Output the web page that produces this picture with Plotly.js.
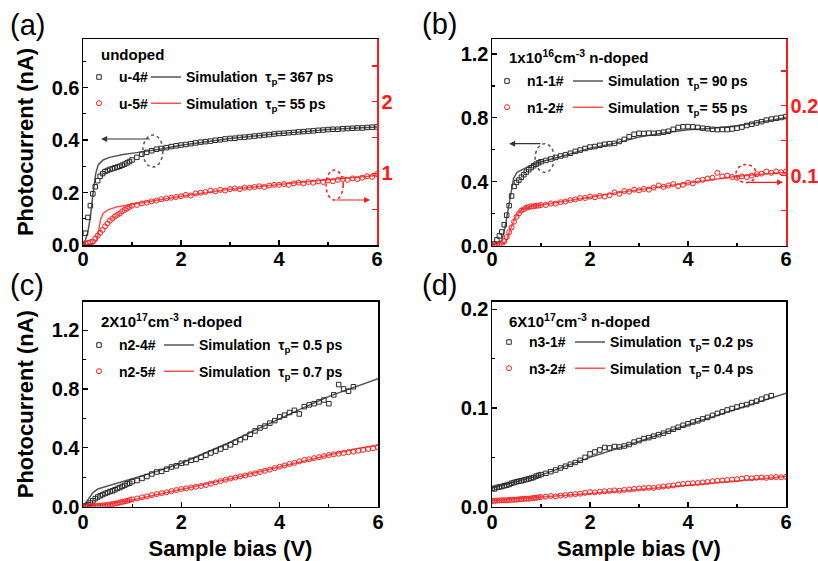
<!DOCTYPE html>
<html><head><meta charset="utf-8">
<script src="https://cdn.plot.ly/plotly-3.0.1.min.js"></script>
<style>body{margin:0;background:#fff}#chart{width:818px;height:561px}</style>
</head><body><div id="chart"></div>
<script>
// ---------- DATA ----------
const biasV = [0,0.05,0.1,0.15,0.2,0.25,0.3,0.35,0.4,0.45,0.5,0.55,0.6,0.65,0.7,0.75,0.8,0.85,0.9,0.95,1.0,
  1.1,1.2,1.3,1.4,1.5,1.6,1.7,1.8,1.9,2.0,2.1,2.2,2.3,2.4,2.5,2.6,2.7,2.8,2.9,3.0,
  3.1,3.2,3.3,3.4,3.5,3.6,3.7,3.8,3.9,4.0,4.1,4.2,4.3,4.4,4.5,4.6,4.7,4.8,4.9,5.0,
  5.1,5.2,5.3,5.4,5.5,5.6,5.7,5.8,5.9,6.0];

// (a) undoped
const u4 = [0.000,0.045,0.105,0.150,0.195,0.222,0.245,0.262,0.272,0.280,0.284,0.288,0.291,0.294,0.297,0.300,0.304,0.308,0.313,0.318,0.324,
  0.334,0.346,0.353,0.359,0.365,0.368,0.371,0.375,0.378,0.381,0.383,0.386,0.389,0.392,0.394,0.396,0.399,0.401,0.404,0.406,
  0.407,0.410,0.411,0.413,0.415,0.417,0.419,0.421,0.423,0.425,0.426,0.428,0.429,0.431,0.432,0.434,0.435,0.437,0.438,0.440,
  0.441,0.441,0.443,0.444,0.445,0.446,0.446,0.448,0.449,0.450];
const u5 = [0.02,0.02,0.03,0.04,0.05,0.09,0.13,0.17,0.21,0.26,0.30,0.34,0.37,0.40,0.42,0.44,0.47,0.49,0.51,0.53,0.55,
  0.56,0.58,0.59,0.61,0.62,0.64,0.65,0.66,0.67,0.68,0.70,0.69,0.72,0.73,0.74,0.76,0.75,0.77,0.76,0.78,
  0.79,0.78,0.80,0.80,0.81,0.82,0.81,0.83,0.84,0.84,0.85,0.84,0.86,0.87,0.86,0.88,0.87,0.89,0.88,0.90,
  0.89,0.91,0.92,0.91,0.93,0.92,0.94,0.96,0.95,0.99];
const simU4x = [0,0.05,0.1,0.15,0.2,0.26,0.31,0.41,0.54,0.82,1.09,1.3,1.6,2,2.5,3,3.5,4,4.5,5,5.5,6];
const simU4y = [0,0.02,0.05,0.105,0.19,0.273,0.305,0.324,0.334,0.345,0.352,0.357,0.366,0.380,0.394,0.406,0.415,0.425,0.432,0.440,0.445,0.450];
const simU5x = [0,0.2,0.28,0.32,0.36,0.41,0.51,0.68,1.02,1.36,1.7,2,2.5,3,3.5,4,4.5,5,5.5,6];
const simU5y = [0,0.01,0.06,0.22,0.36,0.44,0.49,0.53,0.57,0.60,0.64,0.68,0.73,0.78,0.81,0.85,0.88,0.91,0.94,0.97];

// (b) 1e16 n-doped
const n11 = [0.000,0.010,0.035,0.060,0.085,0.130,0.190,0.250,0.310,0.370,0.395,0.410,0.428,0.444,0.460,0.475,0.488,0.500,0.510,0.518,0.525,
  0.533,0.542,0.552,0.561,0.568,0.578,0.590,0.598,0.608,0.617,0.620,0.628,0.634,0.638,0.640,0.652,0.665,0.682,0.697,0.703,
  0.702,0.704,0.703,0.705,0.710,0.716,0.728,0.740,0.744,0.745,0.743,0.740,0.735,0.732,0.728,0.726,0.727,0.726,0.730,0.735,
  0.742,0.752,0.760,0.768,0.776,0.786,0.792,0.797,0.802,0.808];
const n12 = [0.000,0.000,0.000,0.001,0.002,0.006,0.012,0.019,0.026,0.034,0.041,0.046,0.050,0.052,0.054,0.055,0.056,0.056,0.057,0.057,0.058,
  0.058,0.060,0.060,0.062,0.063,0.065,0.066,0.068,0.068,0.070,0.069,0.071,0.070,0.072,0.076,0.074,0.078,0.077,0.080,0.079,
  0.081,0.080,0.083,0.086,0.084,0.086,0.088,0.085,0.087,0.090,0.089,0.093,0.094,0.096,0.097,0.104,0.099,0.100,0.098,0.097,
  0.099,0.098,0.100,0.102,0.103,0.106,0.104,0.106,0.105,0.106];
const simN11x = [0,0.2,0.27,0.34,0.39,0.44,0.51,0.61,0.75,0.95,1.2,1.5,2,2.5,3,3.5,4,4.5,5,5.5,6];
const simN11y = [0,0.03,0.12,0.246,0.35,0.42,0.458,0.475,0.496,0.52,0.54,0.565,0.61,0.64,0.68,0.705,0.725,0.735,0.75,0.775,0.80];
const simN12x = [0,0.2,0.3,0.4,0.5,0.6,0.8,1,1.5,2,2.5,3,3.5,4,4.5,5,5.5,6];
const simN12y = [0,0,0.008,0.028,0.043,0.051,0.056,0.058,0.064,0.069,0.075,0.080,0.085,0.089,0.094,0.099,0.102,0.105];

// (c) 2e17 n-doped
const n24 = [0.000,0.005,0.012,0.025,0.040,0.055,0.066,0.074,0.082,0.090,0.096,0.103,0.108,0.115,0.124,0.130,0.138,0.145,0.155,0.160,0.170,
  0.178,0.192,0.205,0.222,0.236,0.240,0.255,0.270,0.278,0.295,0.300,0.315,0.322,0.336,0.350,0.365,0.378,0.392,0.405,0.420,
  0.438,0.455,0.470,0.492,0.515,0.535,0.548,0.568,0.585,0.610,0.622,0.640,0.655,0.630,0.680,0.692,0.700,0.712,0.725,0.700,
  0.760,0.830,0.800,0.785,0.815];
const n25 = [0.000,0.000,0.001,0.002,0.003,0.004,0.005,0.007,0.008,0.010,0.012,0.015,0.018,0.021,0.024,0.028,0.032,0.036,0.040,0.045,0.050,
  0.056,0.064,0.070,0.079,0.086,0.092,0.098,0.106,0.113,0.120,0.125,0.130,0.136,0.141,0.147,0.156,0.165,0.174,0.183,0.192,
  0.198,0.206,0.212,0.220,0.227,0.236,0.244,0.252,0.262,0.272,0.280,0.290,0.298,0.308,0.317,0.322,0.330,0.337,0.344,0.351,
  0.356,0.360,0.365,0.370,0.374,0.380,0.386,0.392,0.397,0.403];
const simN24x = [0,0.1,0.2,0.3,0.5,1,1.5,2,2.5,3,3.5,4,4.5,5,5.5,6];
const simN24y = [0,0.05,0.095,0.12,0.14,0.185,0.24,0.295,0.365,0.44,0.52,0.60,0.675,0.75,0.81,0.87];
const simN25x = [0,0.5,1,1.5,2,2.5,3,3.5,4,4.5,5,5.5,6];
const simN25y = [0,0.015,0.045,0.08,0.115,0.15,0.19,0.23,0.27,0.315,0.355,0.39,0.42];

// (d) 6e17 n-doped
const n31 = [0.0186,0.0180,0.0195,0.0200,0.0205,0.0212,0.0218,0.0225,0.0238,0.0245,0.0253,0.0258,0.0262,0.0270,0.0276,0.0282,0.0290,0.0296,0.0310,0.0318,0.0325,
  0.0338,0.0355,0.0372,0.0392,0.0410,0.0430,0.0448,0.0470,0.0500,0.0535,0.0555,0.0575,0.0600,0.0595,0.0610,0.0605,0.0615,0.0630,0.0655,0.0670,
  0.0690,0.0700,0.0715,0.0730,0.0745,0.0765,0.0785,0.0805,0.0825,0.0840,0.0858,0.0870,0.0890,0.0905,0.0925,0.0945,0.0960,0.0980,0.0995,0.1010,
  0.1025,0.1035,0.1055,0.1070,0.1090,0.1110,0.1125];
const n32 = [0.0060,0.0058,0.0062,0.0063,0.0065,0.0066,0.0064,0.0068,0.0070,0.0072,0.0071,0.0075,0.0078,0.0080,0.0082,0.0080,0.0085,0.0088,0.0090,0.0094,0.0098,
  0.0102,0.0108,0.0104,0.0112,0.0118,0.0122,0.0128,0.0132,0.0140,0.0148,0.0145,0.0152,0.0156,0.0160,0.0165,0.0162,0.0170,0.0175,0.0180,0.0185,
  0.0188,0.0192,0.0190,0.0198,0.0205,0.0210,0.0215,0.0225,0.0230,0.0235,0.0238,0.0240,0.0246,0.0250,0.0258,0.0262,0.0266,0.0270,0.0275,0.0278,
  0.0285,0.0292,0.0288,0.0293,0.0296,0.0292,0.0298,0.0300,0.0298,0.0302];
const simN31x = [0,1,2,3,4,5,6];
const simN31y = [0.019,0.032,0.050,0.066,0.083,0.099,0.115];
const simN32x = [0,1,2,3,4,5,6];
const simN32y = [0.006,0.0095,0.0135,0.0175,0.022,0.026,0.0305];

const headers = ['undoped','1x10<sup>16</sup>cm<sup>-3</sup> n-doped','2X10<sup>17</sup>cm<sup>-3</sup> n-doped','6X10<sup>17</sup>cm<sup>-3</sup> n-doped'];
const panelLabels = ['(a)','(b)','(c)','(d)'];
const xTickVals = [0,2,4,6];

// ---------- STYLE / LAYOUT ----------
const FONT = 'Liberation Sans, Arial, Helvetica, sans-serif';
const W = 818, H = 561;
const PX = p => p / W, PY = p => 1 - p / H;
const BLK = '#2a2a2a', SIMBLK = '#555555', RED = '#ff1a1a', SIMRED = '#ff5050';

function meas(y, name, xa, ya, color, symbol, legend, group) {
  return {x: biasV.slice(0, y.length), y, name, xaxis: xa, yaxis: ya, type: 'scatter', mode: 'markers',
    marker: {symbol, size: symbol === 'circle-open' ? 5 : 4.5, color, line: {width: 1, color}},
    legend, legendgroup: group, showlegend: true};
}
function sim(x, y, tau, xa, ya, color, legend, group) {
  return {x, y, name: 'Simulation\u00A0\u00A0τ<sub>p</sub>= ' + tau + ' ps', xaxis: xa, yaxis: ya, type: 'scatter', mode: 'lines',
    line: {color, width: 1.5}, legend, legendgroup: group, showlegend: true};
}

const traces = [
  sim(simU4x, simU4y, '367', 'x', 'y', SIMBLK, 'legend2', 'a3'),
  sim(simU5x, simU5y, '55', 'x', 'y2', SIMRED, 'legend2', 'a4'),
  meas(u4, 'u-4#', 'x', 'y', BLK, 'square-open', 'legend', 'a1'),
  meas(u5, 'u-5#', 'x', 'y2', RED, 'circle-open', 'legend', 'a2'),

  sim(simN11x, simN11y, '90', 'x2', 'y3', SIMBLK, 'legend4', 'b3'),
  sim(simN12x, simN12y, '55', 'x2', 'y4', SIMRED, 'legend4', 'b4'),
  meas(n11, 'n1-1#', 'x2', 'y3', BLK, 'square-open', 'legend3', 'b1'),
  meas(n12, 'n1-2#', 'x2', 'y4', RED, 'circle-open', 'legend3', 'b2'),

  sim(simN24x, simN24y, '0.5', 'x3', 'y5', SIMBLK, 'legend6', 'c3'),
  sim(simN25x, simN25y, '0.7', 'x3', 'y5', SIMRED, 'legend6', 'c4'),
  meas(n24, 'n2-4#', 'x3', 'y5', BLK, 'square-open', 'legend5', 'c1'),
  meas(n25, 'n2-5#', 'x3', 'y5', RED, 'circle-open', 'legend5', 'c2'),

  sim(simN31x, simN31y, '0.2', 'x4', 'y6', SIMBLK, 'legend8', 'd3'),
  sim(simN32x, simN32y, '0.4', 'x4', 'y6', SIMRED, 'legend8', 'd4'),
  meas(n31, 'n3-1#', 'x4', 'y6', BLK, 'square-open', 'legend7', 'd1'),
  meas(n32, 'n3-2#', 'x4', 'y6', RED, 'circle-open', 'legend7', 'd2'),
];

const tickFont = {family: FONT, size: 20, weight: 'bold', color: 'black'};
const titleFont = {family: FONT, size: 22, weight: 'bold', color: 'black'};
function xAxis(domain, anchor, withTitle, standoff) {
  const a = {domain, anchor, range: [0, 6], showline: true, linecolor: 'black', linewidth: 1.5, mirror: true,
    ticks: 'inside', ticklen: 5, tickwidth: 1.2, tickcolor: 'black', tickmode: 'array', tickvals: xTickVals,
    minor: {dtick: 1, tick0: 0, ticks: 'inside', ticklen: 3, tickcolor: 'black'}, ticklabelstandoff: standoff,
    tickfont: tickFont, showgrid: false, zeroline: false, fixedrange: true, automargin: false};
  if (withTitle) a.title = {text: 'Sample bias (V)', font: titleFont, standoff: 10};
  return a;
}
function yAxis(domain, anchor, range, dtick, minorDtick, mirror, withTitle) {
  const a = {domain, anchor, range, showline: true, linecolor: 'black', linewidth: 1.5, mirror,
    ticks: 'inside', ticklen: 5, tickwidth: 1.2, tickcolor: 'black', dtick, tick0: 0, tickformat: '.1f',
    minor: {dtick: minorDtick, tick0: 0, ticks: 'inside', ticklen: 3, tickcolor: 'black'}, ticklabelstandoff: -2,
    tickfont: tickFont, showgrid: false, zeroline: false, fixedrange: true, automargin: false};
  if (withTitle) a.title = {text: 'Photocurrent (nA)', font: titleFont, standoff: 12};
  return a;
}
function yRight(overlay, anchor, range, vals, texts, minorVals) {
  return {overlaying: overlay, anchor, side: 'right', range, showline: true, linecolor: RED, linewidth: 1.5,
    ticks: 'inside', ticklen: 5, tickwidth: 1.2, tickcolor: RED, tickmode: 'array', tickvals: vals, ticktext: texts,
    minor: {tickmode: 'array', tickvals: minorVals, ticks: 'inside', ticklen: 5, tickcolor: RED}, ticklabelstandoff: -1,
    tickfont: Object.assign({}, tickFont, {color: RED}), showgrid: false, zeroline: false, fixedrange: true, automargin: false};
}

const dA = {x: [PX(83), PX(377)], y: [PY(245), PY(39)]};
const dB = {x: [PX(492), PX(786)], y: [PY(245.5), PY(39)]};
const dC = {x: [PX(83), PX(378)], y: [PY(506.7), PY(301.7)]};
const dD = {x: [PX(492), PX(786)], y: [PY(506.7), PY(301.7)]};

function legendAt(xpx, ytop) {
  return {x: PX(xpx), y: PY(ytop), xanchor: 'left', yanchor: 'top', xref: 'paper', yref: 'paper',
    bgcolor: 'rgba(0,0,0,0)', borderwidth: 0, traceorder: 'grouped', tracegroupgap: 5, itemwidth: 30,
    font: {family: FONT, size: 14, weight: 'bold', color: 'black'}, itemclick: false, itemdoubleclick: false};
}

const annots = [];
const labelPos = [[8, 25], [420, 24], [8, 285], [420, 285]];
panelLabels.forEach((t, i) => annots.push({text: t, xref: 'paper', yref: 'paper', x: PX(labelPos[i][0]), y: PY(labelPos[i][1]),
  xanchor: 'left', yanchor: 'middle', showarrow: false, font: {family: FONT, size: 29, color: 'black'}}));
const headPos = [[99, 55], [507, 57], [99, 320], [507, 320]];
headers.forEach((t, i) => annots.push({text: t, xref: 'paper', yref: 'paper', x: PX(headPos[i][0]), y: PY(headPos[i][1]),
  xanchor: 'left', yanchor: 'middle', showarrow: false, font: {family: FONT, size: 15, weight: 'bold', color: 'black'}}));
// arrows pointing to the relevant axis
function arrow(xr, yr, x, y, ax, ay, color) {
  return {xref: xr, yref: yr, axref: xr, ayref: yr, x, y, ax, ay, text: '', showarrow: true,
    arrowhead: 2, arrowsize: 1, arrowwidth: 1.2, arrowcolor: color, standoff: 0, startstandoff: 0};
}
annots.push(arrow('x', 'y', 0.37, 0.404, 1.39, 0.404, '#333'));
annots.push(arrow('x', 'y2', 5.86, 0.628, 5.14, 0.628, RED));
annots.push(arrow('x2', 'y3', 0.35, 0.638, 1.02, 0.638, '#333'));
annots.push(arrow('x2', 'y4', 5.94, 0.0904, 5.16, 0.0904, RED));

const shapes = [
  {type: 'circle', xref: 'x', yref: 'y', x0: 1.22, x1: 1.63, y0: 0.297, y1: 0.419, line: {color: '#555', width: 1.5, dash: 'dot'}},
  {type: 'circle', xref: 'x', yref: 'y2', x0: 4.96, x1: 5.31, y0: 0.628, y1: 1.047, line: {color: RED, width: 1.5, dash: 'dot'}},
  {type: 'circle', xref: 'x2', yref: 'y3', x0: 0.88, x1: 1.27, y0: 0.458, y1: 0.638, line: {color: '#555', width: 1.5, dash: 'dot'}},
  {type: 'circle', xref: 'x2', yref: 'y4', x0: 4.98, x1: 5.39, y0: 0.09, y1: 0.116, line: {color: RED, width: 1.5, dash: 'dot'}},
];

const layout = {
  width: W, height: H, margin: {l: 0, r: 0, t: 0, b: 0}, paper_bgcolor: 'white', plot_bgcolor: 'white',
  font: {family: FONT, color: 'black'}, showlegend: true, hovermode: false,
  xaxis: xAxis(dA.x, 'y', false, -5),
  yaxis: yAxis(dA.y, 'x', [0, 0.785], 0.2, 0.1, false, true),
  yaxis2: yRight('y', 'x', [0, 2.876], [1, 2], ['1', '2'], [0.5, 1.5, 2.5]),
  xaxis2: xAxis(dB.x, 'y3', false, -5),
  yaxis3: yAxis(dB.y, 'x2', [0, 1.294], 0.4, 0.2, false, false),
  yaxis4: yRight('y3', 'x2', [0, 0.2957], [0.1, 0.2], ['0.1', '0.2'], [0.05, 0.15, 0.25]),
  xaxis3: xAxis(dC.x, 'y5', true, -3),
  yaxis5: yAxis(dC.y, 'x3', [0, 1.393], 0.4, 0.2, true, true),
  xaxis4: xAxis(dD.x, 'y6', true, -3),
  yaxis6: yAxis(dD.y, 'x4', [0, 0.2077], 0.1, 0.05, true, false),
  legend: legendAt(79, 61.4), legend2: legendAt(146, 61.4),
  legend3: legendAt(487, 65.4), legend4: legendAt(568, 65.4),
  legend5: legendAt(79, 329.4), legend6: legendAt(159, 329.4),
  legend7: legendAt(489, 326.4), legend8: legendAt(570, 326.4),
  annotations: annots, shapes
};

Plotly.newPlot('chart', traces, layout, {displayModeBar: false, staticPlot: true});
</script></body></html>
